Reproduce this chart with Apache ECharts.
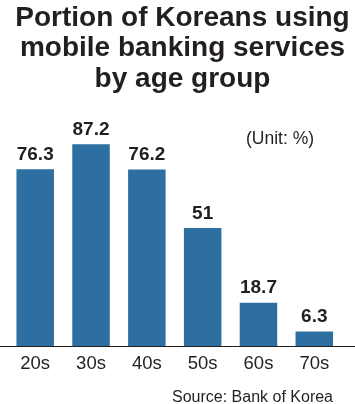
<!DOCTYPE html>
<html>
<head>
<meta charset="utf-8">
<script src="https://cdn.jsdelivr.net/npm/echarts@6/dist/echarts.min.js"></script>
<style>
html,body{margin:0;padding:0;background:#fff;}
#chart{width:355px;height:404px;}
</style>
</head>
<body>
<div id="chart"></div>
<script>
var categories = ['20s', '30s', '40s', '50s', '60s', '70s'];
var values = [76.3, 87.2, 76.2, 51, 18.7, 6.3];
var titleText = 'Portion of Koreans using\nmobile banking services\nby age group';
var unitText = '(Unit: %)';
var sourceText = 'Source: Bank of Korea';

var FONT = '"Liberation Sans", Arial, Helvetica, sans-serif';
var TEXT = '#231f20';
var chart = echarts.init(document.getElementById('chart'), null, {renderer: 'canvas'});
chart.setOption({
  animation: false,
  backgroundColor: '#fff',
  title: [
    {
      text: titleText, left: 177.5, top: -2,
      textAlign: 'center',
      textStyle: {fontFamily: FONT, fontSize: 28, fontWeight: 'bold', color: TEXT, lineHeight: 30.5}
    },
    {
      text: unitText, left: 241, top: 125,
      textStyle: {fontFamily: FONT, fontSize: 17.5, fontWeight: 'normal', color: TEXT}
    },
    {
      text: sourceText, right: 17, top: 385,
      textStyle: {fontFamily: FONT, fontSize: 16, fontWeight: 'normal', color: TEXT}
    }
  ],
  grid: [
    {left: 7.3, right: 12.8, top: 114.5, bottom: 58},
    {left: 0, right: 0, top: 114.5, bottom: 58}
  ],
  xAxis: [
    {
      type: 'category', data: categories, gridIndex: 0,
      axisLine: {show: false}, axisTick: {show: false},
      axisLabel: {margin: 8, fontFamily: FONT, fontSize: 18.5, color: TEXT}
    },
    {
      type: 'value', gridIndex: 1, min: 0, max: 1,
      axisLine: {show: true, lineStyle: {color: '#231f20', width: 1}},
      axisTick: {show: false}, axisLabel: {show: false}, splitLine: {show: false}
    }
  ],
  yAxis: [
    {type: 'value', min: 0, max: 100, gridIndex: 0, show: false, splitLine: {show: false}},
    {type: 'value', min: 0, max: 1, gridIndex: 1, show: false, splitLine: {show: false}}
  ],
  series: [{
    type: 'bar', data: values, xAxisIndex: 0, yAxisIndex: 0,
    barWidth: 37.5,
    itemStyle: {color: '#2d6fa0'},
    label: {
      show: true, position: 'top', distance: 5,
      fontFamily: FONT, fontSize: 19, fontWeight: 'bold', color: TEXT
    }
  }]
});
</script>
</body>
</html>
